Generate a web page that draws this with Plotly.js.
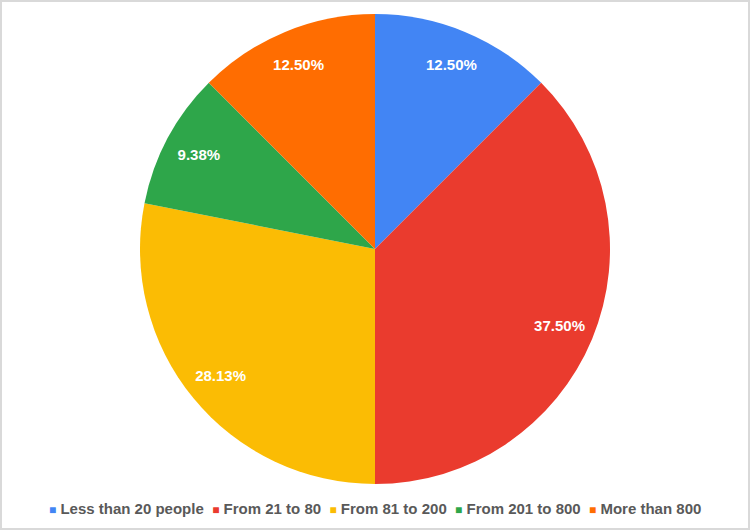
<!DOCTYPE html>
<html>
<head>
<meta charset="utf-8">
<script src="https://cdn.plot.ly/plotly-3.0.1.min.js"></script>
<style>
  html, body { margin: 0; padding: 0; background: #ffffff; }
  #frame { width: 750px; height: 530px; box-sizing: border-box; border: 2px solid #d9d9d9; }
  #chart { width: 746px; height: 526px; }
</style>
</head>
<body>
<div id="frame"><div id="chart"></div></div>
<script>
const categories = ['Less than 20 people', 'From 21 to 80', 'From 81 to 200', 'From 201 to 800', 'More than 800'];
const counts = [4, 12, 9, 3, 4];
const sliceColors = ['#4285f4', '#ea3b2e', '#fbbc04', '#2ea64a', '#ff6d01'];

const domain = { x: [0, 1], y: [0, 1] };
const labelFont = 'Liberation Sans, Arial, sans-serif';

// main pie, no text
const pieTrace = {
    type: 'pie',
    labels: categories,
    values: counts,
    sort: false,
    direction: 'clockwise',
    rotation: 0,
    domain: domain,
    marker: { colors: sliceColors, line: { width: 0 } },
    textinfo: 'none',
    showlegend: false
};

// transparent ring on top, only to push the labels toward the rim
const labelRing = {
    type: 'pie',
    labels: categories,
    values: counts,
    sort: false,
    direction: 'clockwise',
    rotation: 0,
    hole: 0.7,
    domain: domain,
    showlegend: false,
    marker: { colors: categories.map(() => 'rgba(0,0,0,0)'), line: { width: 0 } },
    texttemplate: '%{percent:.2%}',
    textposition: 'inside',
    insidetextorientation: 'horizontal',
    textfont: { color: '#ffffff', family: labelFont, size: 15, weight: 'bold' }
};

// compact legend like the original (small square + label, tight spacing)
const legendText = categories.map((c, i) =>
    '<span style="color:' + sliceColors[i] + ';font-size:12px">■</span> ' + c
).join('  ');

const layout = {
    width: 746,
    height: 526,
    paper_bgcolor: '#ffffff',
    margin: { l: 0, r: 0, t: 12, b: 44 },
    showlegend: false,
    annotations: [{
        xref: 'paper', yref: 'paper',
        x: 0.5, y: -0.053,
        xanchor: 'center', yanchor: 'middle',
        showarrow: false,
        text: legendText,
        font: { family: labelFont, size: 15, color: '#595959', weight: 'bold' }
    }]
};

Plotly.newPlot('chart', [pieTrace, labelRing], layout, { displayModeBar: false, staticPlot: true });
</script>
</body>
</html>
